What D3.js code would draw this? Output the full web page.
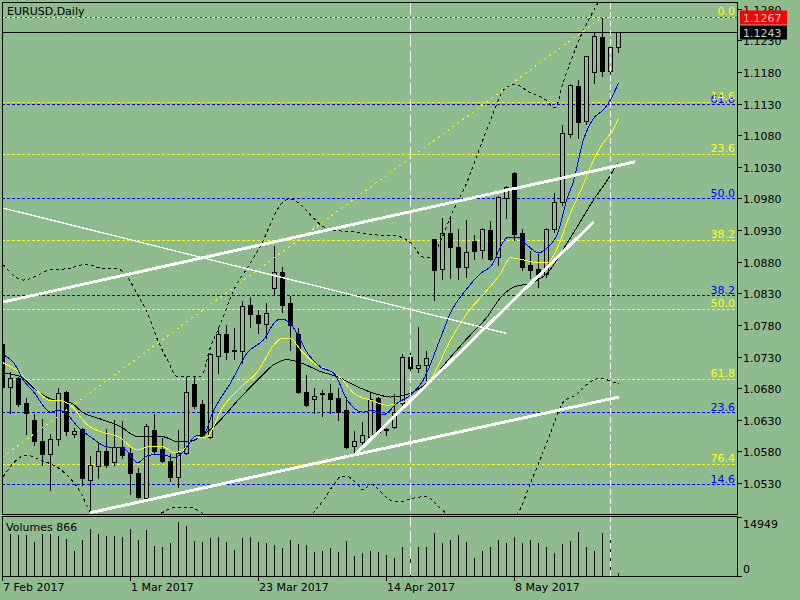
<!DOCTYPE html>
<html>
<head>
<meta charset="utf-8">
<script src="https://cdn.jsdelivr.net/npm/d3@7/dist/d3.min.js"></script>
<style>
  body { margin: 0; background: #8fbc8f; }
  svg { display: block; }
  text { font-family: "DejaVu Sans", sans-serif; font-size: 11px; }
</style>
</head>
<body>
<svg id="chart" width="800" height="600"></svg>
<script>
// barras diárias EURUSD, índice 0 = 7 Feb 2017
const opens = [1.0750,1.0682,1.0696,1.0657,1.0630,1.0597,1.0576,1.0600,1.0674,1.0608,
  1.0615,1.0535,1.0557,1.0581,1.0563,1.0587,1.0578,1.0546,1.0506,1.0614,
  1.0584,1.0565,1.0540,1.0578,1.0687,1.0655,1.0603,1.0731,1.0766,1.0740,
  1.0739,1.0812,1.0796,1.0782,1.0838,1.0864,1.0815,1.0766,1.0674,1.0663,
  1.0672,1.0672,1.0665,1.0646,1.0589,1.0595,1.0603,1.0665,1.0614,1.0619,
  1.0657,1.0729,1.0712,1.0717,1.0916,1.0869,1.0925,1.0903,1.0872,1.0913,
  1.0899,1.0930,1.0888,1.0981,1.1020,1.0925,1.0875,1.0869,1.0861,1.0932,
  1.0974,1.1082,1.1158,1.1103,1.1180,1.1235,1.1182,1.1220];
const highs = [1.0752,1.0707,1.0699,1.0666,1.0641,1.0633,1.0609,1.0682,1.0677,1.0619,
  1.0619,1.0574,1.0595,1.0617,1.0631,1.0630,1.0587,1.0555,1.0625,1.0641,
  1.0603,1.0578,1.0615,1.0699,1.0701,1.0663,1.0737,1.0777,1.0782,1.0777,
  1.0819,1.0826,1.0805,1.0816,1.0906,1.0873,1.0827,1.0777,1.0702,1.0682,
  1.0679,1.0688,1.0682,1.0668,1.0614,1.0628,1.0674,1.0668,1.0619,1.0672,
  1.0736,1.0737,1.0778,1.0740,1.0918,1.0951,1.0951,1.0933,1.0948,1.0924,
  1.0935,1.0946,1.0986,1.1001,1.1024,1.0933,1.0899,1.0894,1.0935,1.0990,
  1.1098,1.1163,1.1169,1.1205,1.1245,1.1267,1.1220,1.1245];
const lows = [1.0680,1.0641,1.0652,1.0608,1.0590,1.0559,1.0519,1.0590,1.0606,1.0603,
  1.0527,1.0487,1.0538,1.0555,1.0559,1.0570,1.0513,1.0506,1.0503,1.0578,
  1.0563,1.0533,1.0524,1.0576,1.0649,1.0603,1.0601,1.0704,1.0726,1.0726,
  1.0720,1.0777,1.0767,1.0759,1.0827,1.0801,1.0740,1.0672,1.0652,1.0641,
  1.0636,1.0641,1.0630,1.0585,1.0578,1.0587,1.0601,1.0609,1.0606,1.0617,
  1.0653,1.0693,1.0706,1.0693,1.0819,1.0853,1.0854,1.0853,1.0856,1.0884,
  1.0886,1.0883,1.0875,1.0949,1.0914,1.0867,1.0854,1.0840,1.0856,1.0927,
  1.0970,1.1077,1.1076,1.1098,1.1163,1.1174,1.1167,1.1212];
const closes = [1.0682,1.0696,1.0655,1.0641,1.0597,1.0576,1.0600,1.0672,1.0612,1.0612,
  1.0538,1.0559,1.0581,1.0559,1.0587,1.0574,1.0546,1.0508,1.0620,1.0581,
  1.0565,1.0540,1.0578,1.0674,1.0652,1.0606,1.0734,1.0766,1.0737,1.0739,
  1.0810,1.0797,1.0783,1.0799,1.0864,1.0812,1.0780,1.0674,1.0653,1.0668,
  1.0671,1.0663,1.0642,1.0587,1.0597,1.0606,1.0663,1.0611,1.0615,1.0642,
  1.0729,1.0712,1.0717,1.0728,1.0867,1.0925,1.0903,1.0872,1.0895,1.0897,
  1.0932,1.0884,1.0982,1.0998,1.0924,1.0872,1.0867,1.0861,1.0932,1.0974,
  1.1084,1.1160,1.1101,1.1205,1.1237,1.1182,1.1220,1.1243];
const volumes = [10100,10643,10389,10389,8540,10643,10643,10136,9376,6335,
  9122,11910,10643,10136,10136,9883,11910,9122,11656,7602,
  7349,8362,13684,12670,8869,8616,9629,9883,8616,6588,
  9629,9883,8616,8362,7855,7095,9122,8109,7855,6082,
  6335,7095,6082,8869,5068,5828,6335,6082,5321,4561,
  7349,6082,7349,7349,10896,8362,9122,10389,8616,4561,
  6335,7349,9122,8362,9883,8362,9000,8362,7349,5828,
  8109,8869,11150,7349,6335,10896,9629,866];

const xTickBars = [0, 16, 32, 48, 64];
const xTickLabels = ["7 Feb 2017", "1 Mar 2017", "23 Mar 2017", "14 Apr 2017", "8 May 2017"];
const priceTicks = [1.0530,1.0580,1.0630,1.0680,1.0730,1.0780,1.0830,1.0880,1.0930,1.0980,1.1030,1.1080,1.1130,1.1180,1.1230,1.1280];
const volumeTicks = [0, 14949];

// médias móveis: [barra, preço]
const maBlue = [[0.1,1.0733],[1.4,1.0720],[2.6,1.0693],[3.9,1.0674],[6,1.0642],[7,1.0645],[7.9,1.0641],[9.4,1.0619],[11,1.0603],[13.1,1.0587],[15.1,1.0585],[16.9,1.0562],[18.1,1.0573],[19.8,1.0576],[21.4,1.0570],[22.5,1.0578],[24.1,1.0604],[25.1,1.0606],[26.4,1.0645],[28.5,1.0688],[30.6,1.0736],[32.6,1.0756],[34.4,1.0788],[35.1,1.0789],[36.4,1.0775],[38.1,1.0736],[39.8,1.0713],[41.4,1.0704],[43.1,1.0661],[45,1.0642],[46.3,1.0645],[47.6,1.0638],[49.4,1.0657],[51,1.0669],[52.6,1.0693],[54.8,1.0761],[56,1.0799],[58.1,1.0838],[59.8,1.0862],[61,1.0872],[63.1,1.0918],[64.4,1.0919],[65.6,1.0906],[67,1.0894],[68.1,1.0902],[69.4,1.0925],[70.6,1.0981],[71.3,1.1004],[72.6,1.1072],[73.9,1.1107],[75.1,1.1120],[76,1.1136],[77,1.1163]];
const maYellow = [[0.1,1.0720],[2,1.0706],[3.9,1.0682],[6,1.0660],[7.3,1.0660],[8.5,1.0653],[10.6,1.0622],[12.3,1.0611],[14.4,1.0604],[16.9,1.0582],[18.1,1.0587],[20.1,1.0587],[21.4,1.0578],[22.6,1.0582],[23.9,1.0601],[25.6,1.0603],[27.3,1.0645],[29.8,1.0682],[31.9,1.0706],[33.9,1.0748],[34.8,1.0758],[36,1.0758],[37.3,1.0740],[38.9,1.0720],[40.6,1.0709],[42.3,1.0696],[43.9,1.0672],[46,1.0661],[48.1,1.0653],[49.8,1.0657],[51,1.0664],[53.5,1.0693],[56,1.0756],[58.1,1.0799],[60.6,1.0835],[62.3,1.0862],[63.5,1.0886],[65.1,1.0883],[66.9,1.0878],[68.1,1.0878],[69.4,1.0903],[71,1.0957],[72.3,1.0993],[73.9,1.1041],[75.1,1.1068],[76.3,1.1088],[77,1.1107]];
const maBlack = [[0.1,1.0704],[2.3,1.0698],[3.9,1.0680],[6,1.0663],[8.5,1.0657],[10.1,1.0641],[12.3,1.0631],[14.8,1.0619],[16.9,1.0603],[18.1,1.0603],[20.1,1.0603],[21.9,1.0595],[23.5,1.0596],[25.6,1.0611],[26.4,1.0619],[29.8,1.0666],[31.9,1.0693],[33.9,1.0717],[35.6,1.0725],[37.3,1.0720],[39.8,1.0706],[41.9,1.0698],[43.9,1.0685],[46.4,1.0672],[48.5,1.0666],[51,1.0672],[53.9,1.0698],[56,1.0729],[58.1,1.0759],[60.6,1.0793],[62.3,1.0824],[63.9,1.0840],[66,1.0846],[68.1,1.0862],[70.6,1.0910],[72.6,1.0951],[73.9,1.0978],[75.6,1.1009],[76.9,1.1036]];

// bandas (pontilhado preto)
const bandUpper = [[0.1,1.0875],[2.6,1.0851],[6,1.0867],[8.1,1.0869],[10.6,1.0876],[12.3,1.0870],[13.9,1.0870],[15.1,1.0864],[16.9,1.0827],[18.1,1.0799],[19.4,1.0756],[20.6,1.0725],[21.9,1.0698],[23.1,1.0699],[24.8,1.0699],[26,1.0745],[27.3,1.0783],[28.9,1.0835],[31,1.0878],[32.6,1.0914],[33.9,1.0951],[35.1,1.0975],[36,1.0979],[37,1.0973],[38.5,1.0954],[39.8,1.0938],[41.4,1.0930],[43.9,1.0927],[47.3,1.0922],[48.5,1.0922],[51,1.0910],[52.6,1.0887],[53.5,1.0886],[54.8,1.0914],[56,1.0951],[57.9,1.1001],[59.5,1.1054],[61,1.1104],[62.9,1.1155],[64.1,1.1160],[66,1.1147],[67.9,1.1136],[69.1,1.1123],[70,1.1160],[71,1.1196],[72.6,1.1246],[74.4,1.1289],[75.8,1.1326],[77,1.1357]];
const bandLower = [[0.1,1.0540],[1.4,1.0562],[2.9,1.0574],[4.8,1.0566],[7.3,1.0551],[9.8,1.0514],[11,1.0483],[13.5,1.0459],[16,1.0456],[18.5,1.0472],[20.1,1.0484],[21.6,1.0492],[23.1,1.0492],[24.8,1.0484],[26,1.0472],[29.8,1.0432],[33.5,1.0416],[36.6,1.0448],[38.9,1.0484],[40.1,1.0503],[41.4,1.0527],[42.3,1.0540],[43.1,1.0540],[44.4,1.0527],[45.1,1.0519],[46,1.0528],[47.3,1.0516],[48.5,1.0503],[49.8,1.0500],[51,1.0505],[52.3,1.0508],[53.1,1.0509],[53.9,1.0500],[55,1.0487],[57.3,1.0464],[61,1.0456],[63.5,1.0472],[64.5,1.0484],[66,1.0530],[67.3,1.0570],[68.5,1.0609],[70.1,1.0658],[71.6,1.0669],[73.5,1.0690],[74.8,1.0696],[76,1.0691],[77,1.0687]];

const fibYellowLabels = ["0.0", "14.6", "23.6", "38.2", "50.0", "61.8", "76.4"];
const fibYellowPrices = [1.1267, 1.1132, 1.1050, 1.0914, 1.0805, 1.0695, 1.0560];
const fibBlueLabels = ["14.6", "23.6", "38.2", "50.0", "61.8"];
const fibBluePrices = [1.0528, 1.0642, 1.0828, 1.0980, 1.1129];

const trendThick = [
  [[0, 1.0816], [79.06, 1.1038]],
  [[10.94, 1.0483], [77.06, 1.0666]],
  [[44, 1.0574], [73.9, 1.0943]]
];
const trendThin = [[0, 1.0965], [62.9, 1.0767]];
const fibDiagonal = [[0, 1.0571], [75, 1.1267]];
const vLineBars = [51, 76];
const vLineDash = ["12,4", "6,3"];
const highPrice = 1.1267;
const bidPrice = 1.1243;

const BG = "#8fbc8f";
const svg = d3.select("#chart");

const x = d3.scaleLinear().domain([0, 77]).range([2.5, 618.5]);
const y = d3.scaleLinear().domain([1.0530, 1.1180]).range([483, 72]);
const yv = d3.scaleLinear().domain([0, 14949]).range([576, 517]);
const py = (p) => Math.round(y(p)) + 0.5;
const fmt = d3.format(".4f");

svg.append("rect").attr("width", 800).attr("height", 600).attr("fill", BG);

const defs = svg.append("defs");
defs.append("clipPath").attr("id", "clipMain")
  .append("rect").attr("x", 3).attr("y", 3).attr("width", 734).attr("height", 511);
defs.append("clipPath").attr("id", "clipVol")
  .append("rect").attr("x", 3).attr("y", 517).attr("width", 734).attr("height", 59);

const main = svg.append("g").attr("clip-path", "url(#clipMain)").attr("shape-rendering", "crispEdges");

// níveis de Fibonacci
main.selectAll("line.fy").data(fibYellowPrices).join("line")
  .attr("x1", 2).attr("x2", 737).attr("y1", (d) => py(d)).attr("y2", (d) => py(d))
  .attr("stroke", "#ffff00").attr("stroke-dasharray", "3,2");
main.selectAll("line.fb").data(fibBluePrices).join("line")
  .attr("x1", 2).attr("x2", 737).attr("y1", (d) => py(d)).attr("y2", (d) => py(d))
  .attr("stroke", "#0000ff").attr("stroke-dasharray", "3,2");

// linha da máxima (vermelha pontilhada) e linha do bid
main.append("line").attr("x1", 2).attr("x2", 737).attr("y1", py(highPrice)).attr("y2", py(highPrice))
  .attr("stroke", "#ff0000").attr("stroke-dasharray", "2,3").attr("stroke-dashoffset", -3);
main.append("line").attr("x1", 2).attr("x2", 737).attr("y1", py(bidPrice)).attr("y2", py(bidPrice))
  .attr("stroke", "#000");

// candles
const bars = d3.range(opens.length);
const cg = main.append("g");
cg.selectAll("line.wick").data(bars).join("line")
  .attr("x1", (i) => x(i)).attr("x2", (i) => x(i))
  .attr("y1", (i) => py(highs[i])).attr("y2", (i) => py(lows[i]))
  .attr("stroke", "#000");
bars.forEach((i) => {
  const top = Math.min(py(opens[i]), py(closes[i]));
  const bot = Math.max(py(opens[i]), py(closes[i]));
  const c = x(i);
  if (bot - top < 1) {
    cg.append("line").attr("x1", c - 2.5).attr("x2", c + 2.5).attr("y1", top).attr("y2", top).attr("stroke", "#000");
  } else {
    cg.append("rect").attr("x", c - 2).attr("y", top).attr("width", 4).attr("height", bot - top)
      .attr("fill", closes[i] < opens[i] ? "#000" : BG).attr("stroke", "#000");
  }
});

// indicadores
const line = d3.line().x((d) => x(d[0])).y((d) => y(d[1])).curve(d3.curveMonotoneX);
main.append("path").attr("d", line(bandUpper)).attr("fill", "none").attr("stroke", "#000").attr("stroke-dasharray", "3,3");
main.append("path").attr("d", line(bandLower)).attr("fill", "none").attr("stroke", "#000").attr("stroke-dasharray", "3,3");
main.append("path").attr("d", line(maBlack)).attr("fill", "none").attr("stroke", "#000");
main.append("path").attr("d", line(maYellow)).attr("fill", "none").attr("stroke", "#ffff00");
main.append("path").attr("d", line(maBlue)).attr("fill", "none").attr("stroke", "#0000ff");

// linhas de tendência
const seg = d3.line().x((d) => x(d[0])).y((d) => y(d[1]));
main.append("path").attr("d", seg(fibDiagonal)).attr("stroke", "#ffff00").attr("stroke-dasharray", "2,4").attr("fill", "none");
main.append("path").attr("d", seg(trendThin)).attr("stroke", "#fff").attr("stroke-width", 1.3).attr("fill", "none");
trendThick.forEach((t) => {
  main.append("path").attr("d", seg(t)).attr("stroke", "#fff").attr("stroke-width", 3).attr("fill", "none");
});

// rótulos dos níveis (azul por baixo, amarelo por cima)
main.selectAll("text.fb").data(fibBluePrices).join("text")
  .attr("x", 735).attr("y", (d) => py(d) - 2).attr("text-anchor", "end")
  .attr("fill", "#0000ff").text((d, i) => fibBlueLabels[i]);
main.selectAll("text.fy").data(fibYellowPrices).join("text")
  .attr("x", 735).attr("y", (d) => py(d) - 3).attr("text-anchor", "end")
  .attr("fill", "#ffff00").text((d, i) => fibYellowLabels[i]);

// volumes
const vol = svg.append("g").attr("clip-path", "url(#clipVol)").attr("shape-rendering", "crispEdges");
vol.selectAll("line").data(bars).join("line")
  .attr("x1", (i) => x(i)).attr("x2", (i) => x(i))
  .attr("y1", yv(0)).attr("y2", (i) => Math.round(yv(volumes[i])))
  .attr("stroke", "#000");
svg.append("text").attr("x", 6).attr("y", 531).attr("fill", "#000")
  .text(`Volumes ${volumes[volumes.length - 1]}`);

// linhas verticais tracejadas
vLineBars.forEach((b, k) => {
  svg.append("line").attr("x1", x(b)).attr("x2", x(b)).attr("y1", 3).attr("y2", 576)
    .attr("stroke", "#fff").attr("stroke-dasharray", vLineDash[k]).attr("shape-rendering", "crispEdges");
});

// molduras
const frame = svg.append("g").attr("fill", "none").attr("stroke", "#000").attr("shape-rendering", "crispEdges");
frame.append("rect").attr("x", 2.5).attr("y", 2.5).attr("width", 735).attr("height", 512);
frame.append("rect").attr("x", 2.5).attr("y", 516.5).attr("width", 735).attr("height", 60);

// eixo de preços
const axis = svg.append("g").attr("shape-rendering", "crispEdges");
axis.selectAll("line").data(priceTicks).join("line")
  .attr("x1", 737).attr("x2", 742).attr("y1", (d) => py(d)).attr("y2", (d) => py(d)).attr("stroke", "#000");
axis.selectAll("text").data(priceTicks).join("text")
  .attr("x", 743).attr("y", (d) => py(d) + 4).attr("fill", "#000").text((d) => fmt(d));

// etiquetas de preço
[[highPrice, "#ff0000"], [bidPrice, "#000000"]].forEach(([p, c]) => {
  const yy = py(p);
  svg.append("rect").attr("x", 740).attr("y", yy - 7).attr("width", 47).attr("height", 14).attr("fill", c);
  svg.append("text").attr("x", 743).attr("y", yy + 4).attr("fill", "#c8d4c8").text(fmt(p));
});

// eixo de volume
const vAxis = svg.append("g").attr("shape-rendering", "crispEdges");
volumeTicks.forEach((v) => {
  const yy = Math.round(yv(v)) + 0.5;
  vAxis.append("line").attr("x1", 737).attr("x2", 742).attr("y1", yy).attr("y2", yy).attr("stroke", "#000");
});
vAxis.append("text").attr("x", 743).attr("y", 528).text(volumeTicks[1]);
vAxis.append("text").attr("x", 743).attr("y", 573).text(volumeTicks[0]);

// eixo de datas
const xa = svg.append("g").attr("shape-rendering", "crispEdges");
xTickBars.forEach((b, k) => {
  xa.append("line").attr("x1", x(b)).attr("x2", x(b)).attr("y1", 576).attr("y2", 581).attr("stroke", "#000");
  xa.append("text").attr("x", x(b) + 0.5).attr("y", 591).attr("fill", "#000").text(xTickLabels[k]);
});

svg.append("text").attr("x", 7).attr("y", 15).attr("fill", "#000").text("EURUSD,Daily");
</script>
</body>
</html>
